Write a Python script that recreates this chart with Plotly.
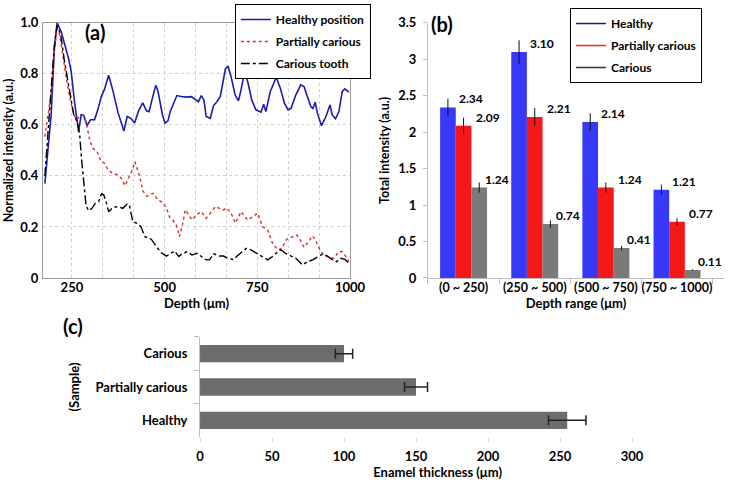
import plotly.graph_objects as go

# ---------------- Panel (a) data ----------------
depth_healthy = [177, 194, 203, 210, 221, 230, 241, 248, 257, 268, 275, 282, 291, 300, 311, 320, 329, 338, 349, 360,
                 374, 390, 399, 409, 419, 429, 441, 451, 458, 467, 476, 482, 488, 494, 501, 509, 515, 522, 533, 545,
                 558, 572, 581, 591, 599, 606, 612, 623, 632, 641, 650, 657, 664, 671, 679, 690, 699, 706, 715, 724,
                 735, 746, 760, 767, 773, 785, 801, 812, 823, 833, 841, 854, 867, 876, 885, 894, 900, 906, 912, 923,
                 935, 946, 952, 961, 970, 979, 986, 997]
healthy = [0.37, 0.64, 0.91, 1.0, 0.966, 0.92, 0.86, 0.81, 0.69, 0.574, 0.64, 0.636, 0.597, 0.62, 0.62, 0.66, 0.71, 0.74, 0.795, 0.737,
           0.65, 0.576, 0.633, 0.626, 0.607, 0.652, 0.686, 0.655, 0.652, 0.705, 0.755, 0.733, 0.678, 0.64, 0.607, 0.616, 0.652, 0.678, 0.715, 0.711,
           0.709, 0.711, 0.702, 0.691, 0.715, 0.698, 0.633, 0.626, 0.676, 0.691, 0.711, 0.77, 0.82, 0.829, 0.79, 0.718, 0.694, 0.737, 0.803, 0.77,
           0.698, 0.659, 0.65, 0.681, 0.652, 0.731, 0.787, 0.744, 0.685, 0.659, 0.665, 0.718, 0.757, 0.75, 0.711, 0.672, 0.665, 0.689, 0.646, 0.597,
           0.633, 0.678, 0.639, 0.624, 0.652, 0.731, 0.741, 0.728]

depth_partial = [177, 185, 194, 203, 210, 217, 226, 235, 244, 253, 262, 271, 280, 288, 298, 306, 318, 329, 338, 347,
                 360, 374, 383, 393, 400, 411, 420, 432, 442, 452, 469, 482, 495, 505, 513, 522, 531, 540, 548, 556,
                 565, 574, 585, 599, 612, 625, 637, 648, 659, 667, 679, 691, 706, 724, 737, 751, 764, 778, 791, 805,
                 816, 829, 843, 856, 863, 876, 888, 899, 909, 921, 933, 943, 957, 969, 979, 988, 997]
partial = [0.554, 0.626, 0.724, 0.887, 0.979, 0.953, 0.861, 0.783, 0.711, 0.652, 0.62, 0.633, 0.639, 0.613, 0.541, 0.509, 0.495, 0.456, 0.45, 0.424,
           0.41, 0.404, 0.391, 0.362, 0.384, 0.417, 0.456, 0.40, 0.34, 0.32, 0.332, 0.306, 0.295, 0.273, 0.24, 0.227, 0.208, 0.162, 0.208, 0.267,
           0.247, 0.227, 0.247, 0.26, 0.234, 0.26, 0.28, 0.273, 0.267, 0.275, 0.254, 0.215, 0.26, 0.227, 0.24, 0.254, 0.201, 0.188, 0.136, 0.11,
           0.116, 0.152, 0.16, 0.169, 0.156, 0.12, 0.142, 0.165, 0.142, 0.103, 0.086, 0.081, 0.077, 0.103, 0.103, 0.086, 0.064]

depth_carious = [177, 194, 202, 210, 220, 230, 239, 248, 255, 264, 271, 275, 282, 288, 295, 304, 313, 322, 330, 336,
                 342, 349, 360, 374, 387, 399, 405, 414, 426, 436, 447, 456, 464, 478, 491, 505, 515, 527, 538, 549,
                 561, 574, 587, 599, 612, 621, 632, 648, 659, 670, 686, 694, 706, 720, 733, 746, 763, 778, 791, 805,
                 814, 825, 841, 854, 872, 885, 899, 912, 926, 939, 953, 964, 975, 986, 995]
carious = [0.40, 0.72, 0.9, 0.99, 0.953, 0.848, 0.77, 0.685, 0.639, 0.613, 0.561, 0.482, 0.378, 0.286, 0.263, 0.273, 0.293, 0.299, 0.33, 0.325,
           0.299, 0.26, 0.276, 0.28, 0.273, 0.29, 0.286, 0.221, 0.214, 0.201, 0.162, 0.155, 0.152, 0.123, 0.099, 0.086, 0.094, 0.106, 0.084, 0.097,
           0.103, 0.09, 0.097, 0.084, 0.071, 0.071, 0.095, 0.086, 0.086, 0.077, 0.072, 0.084, 0.099, 0.116, 0.11, 0.099, 0.084, 0.071, 0.084, 0.103,
           0.11, 0.097, 0.086, 0.077, 0.051, 0.064, 0.071, 0.081, 0.094, 0.086, 0.071, 0.064, 0.077, 0.073, 0.06]

# ---------------- Panel (b) data ----------------
ranges = ["(0 ~ 250)", "(250 ~ 500)", "(500 ~ 750)", "(750 ~ 1000)"]
total_healthy = [2.34, 3.10, 2.14, 1.21]
total_partial = [2.09, 2.21, 1.24, 0.77]
total_carious = [1.24, 0.74, 0.41, 0.11]
err_healthy = [0.12, 0.16, 0.12, 0.07]
err_partial = [0.11, 0.12, 0.07, 0.05]
err_carious = [0.07, 0.05, 0.03, 0.01]

# ---------------- Panel (c) data ----------------
samples = ["Healthy", "Partially carious", "Carious"]
thickness = [255, 150, 100]
thickness_err = [13, 8, 6]

FONT = "Lato"
fig = go.Figure()

# Panel (a) lines
fig.add_trace(go.Scatter(x=depth_healthy, y=healthy, mode="lines", name="Healthy position",
                         line=dict(color="#1c1cb0", width=1.6), xaxis="x", yaxis="y",
                         legend="legend", legendgroup="a1"))
fig.add_trace(go.Scatter(x=depth_partial, y=partial, mode="lines", name="Partially carious",
                         line=dict(color="#e02828", width=1.4, dash="dot"), xaxis="x", yaxis="y",
                         legend="legend", legendgroup="a2"))
fig.add_trace(go.Scatter(x=depth_carious, y=carious, mode="lines", name="Carious tooth",
                         line=dict(color="#000000", width=1.4, dash="dashdot"), xaxis="x", yaxis="y",
                         legend="legend", legendgroup="a3"))

# Panel (b) bars
bar_specs = [
    (total_healthy, err_healthy, "#3838f8", "Healthy", "#1a1a8c"),
    (total_partial, err_partial, "#f51818", "Partially carious", "#ff2020"),
    (total_carious, err_carious, "#7a7a7a", "Carious", "#333333"),
]
for vals, errs, col, nm, legcol in bar_specs:
    fig.add_trace(go.Bar(x=ranges, y=vals, name=nm, marker=dict(color=col, line=dict(width=0)),
                         error_y=dict(type="data", array=errs, width=0, thickness=1, color="#111"),
                         xaxis="x2", yaxis="y2", showlegend=False))
for i, (vals, errs, col, nm, legcol) in enumerate(bar_specs):
    fig.add_trace(go.Scatter(x=[None], y=[None], mode="lines", name=nm,
                             line=dict(color=legcol, width=1.5), xaxis="x2", yaxis="y2",
                             legend="legend2", legendgroup="b%d" % i))

# Panel (c) horizontal bars
fig.add_trace(go.Bar(y=samples, x=thickness, orientation="h", width=0.52,
                     marker=dict(color="#6c6c6c", line=dict(width=0)),
                     error_x=dict(type="data", array=thickness_err, width=5, thickness=1.5, color="#222"),
                     xaxis="x3", yaxis="y3", showlegend=False))

# value labels in (b)
annotations = []
shifts = [-7, 10, 19]
for (vals, errs, col, nm, legcol), sh in zip(bar_specs, shifts):
    for cat, v in zip(ranges, vals):
        annotations.append(dict(x=cat, y=v, xref="x2", yref="y2", text="%.2f" % v, showarrow=False,
                                xanchor="left", yanchor="bottom", xshift=sh, yshift=-1,
                                font=dict(family=FONT, size=12, color="black", weight="bold")))

for txt, xx, yy in [("(a)", 0.13, 0.935), ("(b)", 0.605, 0.95), ("(c)", 0.1, 0.33)]:
    annotations.append(dict(text=txt, x=xx, y=yy, xref="paper", yref="paper", showarrow=False,
                            xanchor="center", yanchor="middle",
                            font=dict(family=FONT, size=20, color="black", weight="bold")))

tickf = dict(family=FONT, size=13, color="black", weight="bold")
titf = dict(family=FONT, size=13, color="black", weight="bold")
grid = "#cfcfcf"

fig.update_layout(
    width=730, height=486,
    margin=dict(l=0, r=0, t=0, b=0, autoexpand=False),
    paper_bgcolor="white", plot_bgcolor="white",
    barmode="group", bargap=0.34, bargroupgap=0,
    font=dict(family=FONT, color="black"),
    annotations=annotations,
    xaxis=dict(domain=[0.0589, 0.4795], range=[172, 1000], tickvals=[250, 500, 750, 1000],
               showgrid=True, gridcolor=grid, griddash="dot", gridwidth=1,
               minor=dict(tick0=0, dtick=250 / 3, showgrid=True, gridcolor=grid, griddash="dot"),
               showline=True, linecolor="#9a9a9a", mirror=True, zeroline=False, ticks="",
               tickfont=tickf, ticklabelstandoff=-3, anchor="y", automargin=False,
               title=dict(text="Depth (μm)", font=titf, standoff=0)),
    yaxis=dict(domain=[0.428, 0.953], range=[0, 1], tickvals=[0, 0.2, 0.4, 0.6, 0.8, 1.0],
               ticktext=["0", "0.2", "0.4", "0.6", "0.8", "1.0"],
               showgrid=True, gridcolor=grid, griddash="dot",
               showline=True, linecolor="#9a9a9a", mirror=True, zeroline=False, ticks="",
               tickfont=tickf, ticklabelstandoff=1, anchor="x", automargin=False,
               title=dict(text="Normalized intensity (a.u.)", font=dict(family=FONT, size=12.5, color="black", weight="bold"), standoff=3)),
    xaxis2=dict(domain=[0.5863, 0.9918], type="category", showline=True, linecolor="#bdbdbd",
                ticks="outside", tickson="boundaries", ticklen=5, tickcolor="#bdbdbd", tickangle=0,
                showgrid=False, zeroline=False, tickfont=dict(family=FONT, size=12.5, color="black", weight="bold"),
                ticklabelstandoff=-2, anchor="y2", automargin=False,
                title=dict(text="Depth range (μm)", font=titf, standoff=0)),
    yaxis2=dict(domain=[0.428, 0.953], range=[0, 3.5], dtick=0.5, showline=True, linecolor="#bdbdbd",
                ticks="outside", ticklen=4, tickcolor="#bdbdbd", showgrid=False, zeroline=False,
                tickfont=tickf, ticklabelstandoff=4, anchor="x2", automargin=False,
                title=dict(text="Total intensity (a.u.)", font=dict(family=FONT, size=12.5, color="black", weight="bold"), standoff=5)),
    xaxis3=dict(domain=[0.274, 0.925], range=[0, 330], dtick=50, showline=False,
                ticks="outside", ticklen=4, tickcolor="#d0d0d0", showgrid=False, zeroline=False,
                tickfont=tickf, ticklabelstandoff=3, anchor="y3", automargin=False,
                title=dict(text="Enamel thickness (μm)", font=titf, standoff=2)),
    yaxis3=dict(domain=[0.1008, 0.3066], type="category", showline=True, linecolor="#bdbdbd",
                ticks="outside", tickson="boundaries", ticklen=5, tickcolor="#bdbdbd",
                showgrid=False, zeroline=False, tickfont=tickf, ticklabelstandoff=9, anchor="x3", automargin=False,
                title=dict(text="(Sample)", font=titf, standoff=12)),
    legend=dict(x=0.508, y=0.9918, xanchor="right", yanchor="top", bgcolor="white",
                bordercolor="black", borderwidth=1, font=dict(family=FONT, size=12, color="black", weight="bold"),
                itemwidth=30, tracegroupgap=3, traceorder="grouped"),
    legend2=dict(x=0.9616, y=0.9835, xanchor="right", yanchor="top", bgcolor="white",
                 bordercolor="black", borderwidth=1, font=dict(family=FONT, size=12, color="black", weight="bold"),
                 itemwidth=30, tracegroupgap=3, traceorder="grouped"),
)

fig.write_html("out.html", config={"displayModeBar": False},
               post_script="document.body.style.margin='0px';")
